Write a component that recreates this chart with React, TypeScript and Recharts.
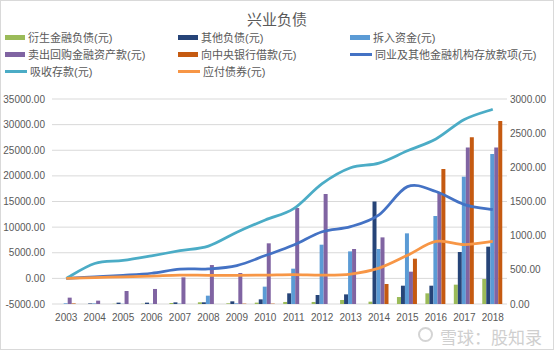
import { ComposedChart, Bar, Line, XAxis, YAxis, CartesianGrid } from "recharts";

// values (亿元)
const years = [
    "2003", "2004", "2005", "2006", "2007", "2008", "2009", "2010",
    "2011", "2012", "2013", "2014", "2015", "2016", "2017", "2018",
];

// bar series, right axis
const derivLiab = [0, 0, 3, 3, 15, 25, 10, 20, 30, 30, 59, 34, 102, 156, 283, 366];
const otherLiab = [0, 8, 20, 20, 24, 25, 39, 68, 156, 132, 141, 1500, 268, 268, 761, 839];
const placements = [10, 8, 3, 3, 5, 122, 10, 254, 517, 868, 770, 805, 1034, 1288, 1863, 2195];
const repo = [93, 49, 190, 220, 390, 570, 454, 888, 1405, 1610, 805, 975, 473, 1629, 2292, 2292];
const centralBank = [8, 0, 0, 0, 0, 0, 5, 5, 0, 0, 0, 293, 663, 1975, 2439, 2677];

// line series, left axis
const interbank = [0, 300, 600, 1000, 1800, 1850, 2500, 4450, 6500, 9100, 10100, 12400, 17900, 16950, 14400, 13400];
const deposits = [0, 2900, 3500, 4400, 5400, 6300, 9000, 11400, 13600, 18500, 21600, 22500, 24900, 27200, 31000, 33000];
const bonds = [0, 150, 300, 450, 650, 600, 600, 650, 750, 650, 850, 2000, 4500, 7200, 6600, 7200];

const leftTicks = [-5000, 0, 5000, 10000, 15000, 20000, 25000, 30000, 35000];
const rightTicks = [0, 500, 1000, 1500, 2000, 2500, 3000];

const data = years.map((year, i) => ({
    year,
    derivLiab: derivLiab[i],
    otherLiab: otherLiab[i],
    placements: placements[i],
    repo: repo[i],
    centralBank: centralBank[i],
    interbank: interbank[i],
    deposits: deposits[i],
    bonds: bonds[i],
}));

const BARS = [
    { key: "derivLiab", name: "衍生金融负债(元)", color: "#9BBB59" },
    { key: "otherLiab", name: "其他负债(元)", color: "#264478" },
    { key: "placements", name: "拆入资金(元)", color: "#5B9BD5" },
    { key: "repo", name: "卖出回购金融资产款(元)", color: "#8064A2" },
    { key: "centralBank", name: "向中央银行借款(元)", color: "#C55A11" },
];

const LINES = [
    { key: "interbank", name: "同业及其他金融机构存放款项(元)", color: "#4472C4" },
    { key: "deposits", name: "吸收存款(元)", color: "#4BACC6" },
    { key: "bonds", name: "应付债券(元)", color: "#F79646" },
];

const LEGEND = [
    ...BARS.map((b) => ({ ...b, kind: "bar" })),
    ...LINES.map((l) => ({ ...l, kind: "line" })),
];

const FONT = '"Liberation Sans", "Noto Sans CJK SC", sans-serif';
const TEXT = "#595959";

// Excel-like smoothed line (Catmull-Rom through the points)
function excelSmooth(context: any) {
    let pts: number[][] = [];
    return {
        areaStart() {},
        areaEnd() {},
        lineStart() {
            pts = [];
        },
        point(x: number, y: number) {
            pts.push([+x, +y]);
        },
        lineEnd() {
            if (!pts.length) return;
            context.moveTo(pts[0][0], pts[0][1]);
            const t = 1 / 6;
            for (let i = 0; i < pts.length - 1; i++) {
                const p0 = pts[i - 1] || pts[i];
                const p1 = pts[i];
                const p2 = pts[i + 1];
                const p3 = pts[i + 2] || p2;
                context.bezierCurveTo(
                    p1[0] + (p2[0] - p0[0]) * t,
                    p1[1] + (p2[1] - p0[1]) * t,
                    p2[0] - (p3[0] - p1[0]) * t,
                    p2[1] - (p3[1] - p1[1]) * t,
                    p2[0],
                    p2[1],
                );
            }
        },
    };
}

function ChartLegend() {
    const cols = [5, 178, 350];
    const rows = [37, 54, 71];
    return (
        <>
            {LEGEND.map((item, i) => (
                <div
                    key={item.key}
                    style={{
                        position: "absolute",
                        left: cols[i % 3],
                        top: rows[Math.floor(i / 3)] - 8,
                        height: 16,
                        display: "flex",
                        alignItems: "center",
                        fontSize: 11,
                        color: TEXT,
                        whiteSpace: "nowrap",
                    }}
                >
                    <span
                        style={{
                            display: "inline-block",
                            width: item.kind === "bar" ? 20 : 22,
                            height: item.kind === "bar" ? 5 : 3,
                            background: item.color,
                            marginRight: 3,
                        }}
                    />
                    {item.name}
                </div>
            ))}
        </>
    );
}

export default function App() {
    return (
        <div
            style={{
                position: "absolute",
                left: 0,
                top: 0,
                width: 554,
                height: 350,
                background: "#fff",
                fontFamily: FONT,
                overflow: "hidden",
            }}
        >
            <div
                style={{
                    position: "absolute",
                    left: 0,
                    top: 8,
                    width: 554,
                    textAlign: "center",
                    fontSize: 15,
                    color: TEXT,
                }}
            >
                兴业负债
            </div>
            <ChartLegend />
            <div style={{ position: "absolute", left: 0, top: 0 }}>
                <ComposedChart
                    width={554}
                    height={350}
                    data={data}
                    barGap={0}
                    barCategoryGap="13%"
                    margin={{ top: 99, right: 0, bottom: 16, left: 0 }}
                >
                    <CartesianGrid vertical={false} stroke="#D9D9D9" yAxisId="left" />
                    <XAxis
                        dataKey="year"
                        height={30}
                        axisLine={false}
                        tickLine={false}
                        tickSize={0}
                        tickMargin={10}
                        interval={0}
                        tick={{ fill: TEXT, fontSize: 10, fontFamily: FONT }}
                    />
                    <YAxis
                        yAxisId="left"
                        width={52}
                        domain={[-5000, 35000]}
                        ticks={leftTicks}
                        interval={0}
                        axisLine={false}
                        tickLine={false}
                        tickSize={0}
                        tickMargin={7}
                        tickFormatter={(v: number) => v.toFixed(2)}
                        tick={{ fill: TEXT, fontSize: 10, fontFamily: FONT }}
                    />
                    <YAxis
                        yAxisId="right"
                        orientation="right"
                        width={47}
                        domain={[0, 3000]}
                        ticks={rightTicks}
                        interval={0}
                        axisLine={false}
                        tickLine={false}
                        tickSize={0}
                        tickMargin={3}
                        tickFormatter={(v: number) => v.toFixed(2)}
                        tick={{ fill: TEXT, fontSize: 10, fontFamily: FONT }}
                    />
                    {BARS.map((b) => (
                        <Bar
                            key={b.key}
                            yAxisId="right"
                            dataKey={b.key}
                            name={b.name}
                            fill={b.color}
                            isAnimationActive={false}
                        />
                    ))}
                    {LINES.map((l) => (
                        <Line
                            key={l.key}
                            yAxisId="left"
                            dataKey={l.key}
                            name={l.name}
                            type={excelSmooth as any}
                            stroke={l.color}
                            strokeWidth={2.75}
                            dot={false}
                            activeDot={false}
                            isAnimationActive={false}
                        />
                    ))}
                </ComposedChart>
            </div>
            {/* watermark */}
            <div
                style={{
                    position: "absolute",
                    left: 418,
                    top: 327,
                    width: 15,
                    height: 15,
                    borderRadius: "50%",
                    border: "2px solid #d4d4d4",
                    boxSizing: "border-box",
                }}
            />
            <div
                style={{
                    position: "absolute",
                    left: 440,
                    top: 324,
                    fontSize: 17,
                    color: "#cfcfcf",
                    fontFamily: '"Noto Sans CJK SC", sans-serif',
                    whiteSpace: "nowrap",
                }}
            >
                雪球：股知录
            </div>
            <div
                style={{
                    position: "absolute",
                    inset: 0,
                    border: "1px solid #D9D9D9",
                    pointerEvents: "none",
                }}
            />
        </div>
    );
}
